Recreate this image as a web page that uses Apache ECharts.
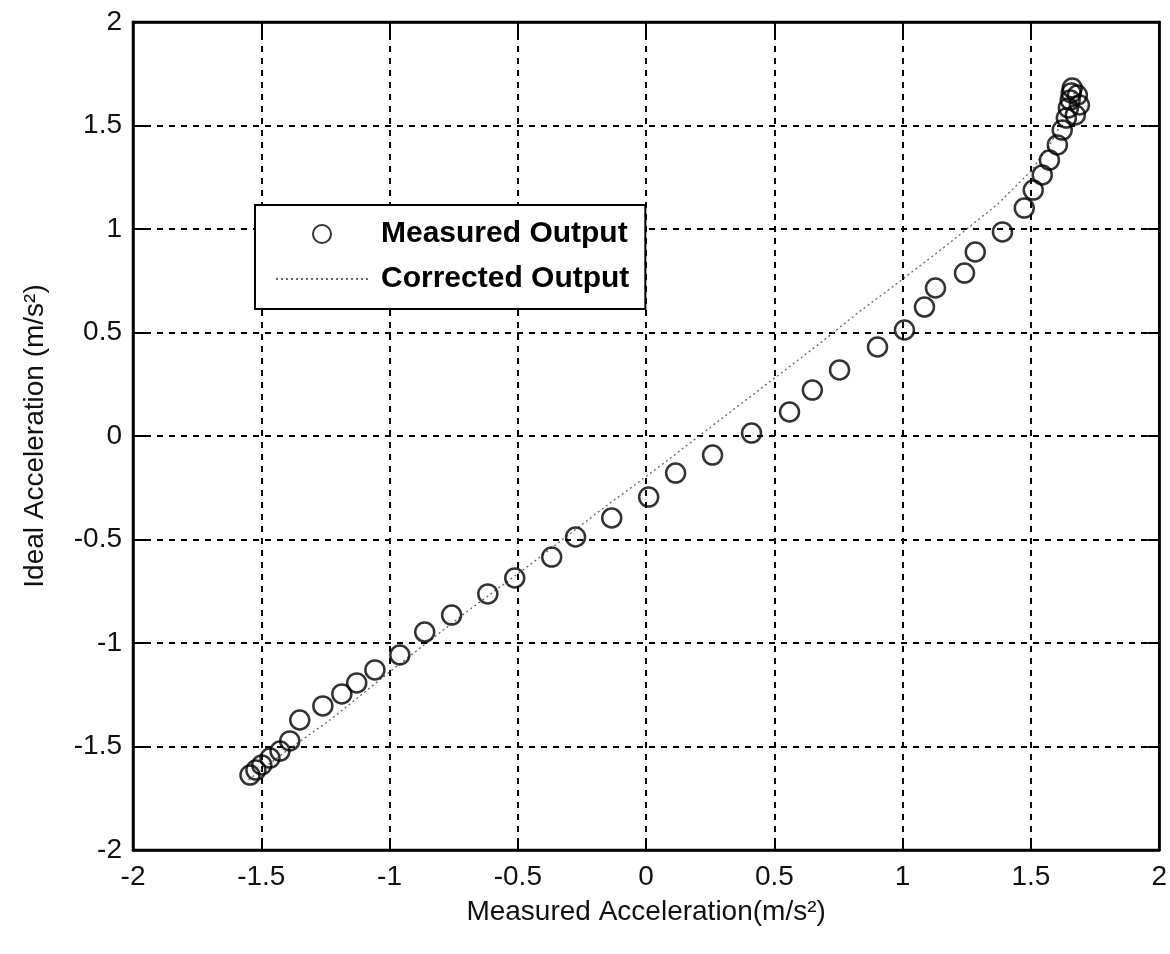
<!DOCTYPE html>
<html>
<head>
<meta charset="utf-8">
<title>Measured vs Ideal Acceleration</title>
<script src="https://cdn.jsdelivr.net/npm/echarts@6/dist/echarts.min.js"></script>
<style>
  html, body { margin: 0; padding: 0; background: #fff; }
  #chart { width: 1170px; height: 954px; }
</style>
</head>
<body>
<div id="chart"></div>
<script>
// Measured output samples (x: measured acceleration, y: ideal acceleration), m/s^2
const measuredX = [
  -1.544, -1.521, -1.498, -1.466, -1.427, -1.389, -1.350, -1.260, -1.186, -1.128,
  -1.057, -0.960, -0.863, -0.758, -0.617, -0.512, -0.368, -0.275, -0.134, 0.010,
  0.115, 0.259, 0.411, 0.559, 0.648, 0.754, 0.902, 1.007, 1.085, 1.128,
  1.241, 1.283, 1.389, 1.474, 1.509, 1.544, 1.572, 1.603, 1.622, 1.638,
  1.646, 1.653, 1.657, 1.661, 1.681, 1.689, 1.673
];
const measuredY = [
  -1.638, -1.614, -1.589, -1.556, -1.522, -1.473, -1.372, -1.304, -1.246, -1.193,
  -1.130, -1.058, -0.947, -0.865, -0.763, -0.686, -0.585, -0.488, -0.396, -0.295,
  -0.179, -0.092, 0.014, 0.116, 0.222, 0.319, 0.430, 0.512, 0.623, 0.715,
  0.787, 0.889, 0.986, 1.101, 1.188, 1.261, 1.333, 1.406, 1.478, 1.536,
  1.585, 1.623, 1.657, 1.681, 1.647, 1.599, 1.551
];

// Corrected output curve
const correctedX = [
  -1.55, -1.40, -1.23, -0.97, -0.70, -0.44, -0.19, 0.06, 0.29, 0.48,
  0.68, 0.83, 0.96, 1.16, 1.37, 1.50, 1.58, 1.64, 1.67
];
const correctedY = [
  -1.66, -1.52, -1.37, -1.11, -0.85, -0.61, -0.37, -0.14, 0.08, 0.26,
  0.45, 0.60, 0.72, 0.91, 1.12, 1.28, 1.42, 1.56, 1.66
];

// Axis tick labels
const xTickLabels = ['-2', '-1.5', '-1', '-0.5', '0', '0.5', '1', '1.5', '2'];
const yTickLabels = ['-2', '-1.5', '-1', '-0.5', '0', '0.5', '1', '1.5', '2'];
const axisMin = -2, axisMax = 2, axisStep = 0.5;

const seriesNames = ['Measured Output', 'Corrected Output'];
const xAxisTitle = 'Measured Acceleration(m/s\u00B2)';
const yAxisTitle = 'Ideal Acceleration (m/s\u00B2)';

const fontFamily = '"Liberation Sans", Arial, sans-serif';

function tickFormatter(labels) {
  return function (v) {
    const i = Math.round((v - axisMin) / axisStep);
    return labels[i] !== undefined ? labels[i] : '';
  };
}

const measuredData = measuredX.map((x, i) => [x, measuredY[i]]);
const correctedData = correctedX.map((x, i) => [x, correctedY[i]]);

const axisLineStyle = { color: '#000', width: 2.5 };
const tickStyle = { show: true, inside: true, length: 12, lineStyle: { color: '#000', width: 2 } };
const gridLineStyle = { show: true, lineStyle: { color: '#000', width: 2, type: [6, 6] } };

const chart = echarts.init(document.getElementById('chart'), null, { renderer: 'canvas' });

chart.setOption({
  backgroundColor: '#fff',
  animation: false,
  grid: {
    left: 133, top: 22, width: 1027, height: 828,
    show: true, borderColor: '#000', borderWidth: 2.5, backgroundColor: '#fff'
  },
  legend: {
    data: [
      { name: seriesNames[0] },
      // line-only key: hide the marker the line series would otherwise add
      { name: seriesNames[1], itemStyle: { color: 'rgba(0,0,0,0)', borderColor: 'rgba(0,0,0,0)', borderWidth: 0, opacity: 0 } }
    ],
    orient: 'vertical',
    left: 255,
    top: 205,
    padding: [14, 16, 15, 20],
    itemWidth: 92,
    itemHeight: 18,
    itemGap: 15,
    backgroundColor: '#fff',
    borderColor: '#000',
    borderWidth: 2,
    borderRadius: 0,
    textStyle: {
      fontFamily: fontFamily,
      fontSize: 30,
      fontWeight: 'bold',
      color: '#000',
      lineHeight: 30,
      padding: [0, 0, 0, 8]
    }
  },
  xAxis: [
    {
      type: 'value', min: axisMin, max: axisMax, interval: axisStep, position: 'bottom',
      axisLine: { show: true, onZero: false, lineStyle: axisLineStyle },
      axisTick: tickStyle,
      axisLabel: {
        formatter: tickFormatter(xTickLabels), fontFamily: fontFamily,
        fontSize: 28, color: '#111', margin: 13
      },
      splitLine: gridLineStyle,
      name: xAxisTitle, nameLocation: 'middle', nameGap: 48,
      nameTextStyle: { fontFamily: fontFamily, fontSize: 28, color: '#111' }
    },
    {
      type: 'value', min: axisMin, max: axisMax, interval: axisStep, position: 'top',
      axisLine: { show: true, onZero: false, lineStyle: axisLineStyle },
      axisTick: tickStyle,
      axisLabel: { show: false },
      splitLine: { show: false }
    }
  ],
  yAxis: [
    {
      type: 'value', min: axisMin, max: axisMax, interval: axisStep, position: 'left',
      axisLine: { show: true, onZero: false, lineStyle: axisLineStyle },
      axisTick: tickStyle,
      axisLabel: {
        formatter: tickFormatter(yTickLabels), fontFamily: fontFamily,
        fontSize: 28, color: '#111', margin: 11
      },
      splitLine: gridLineStyle,
      name: yAxisTitle, nameLocation: 'middle', nameGap: 84,
      nameTextStyle: { fontFamily: fontFamily, fontSize: 28, color: '#111' }
    },
    {
      type: 'value', min: axisMin, max: axisMax, interval: axisStep, position: 'right',
      axisLine: { show: true, onZero: false, lineStyle: axisLineStyle },
      axisTick: tickStyle,
      axisLabel: { show: false },
      splitLine: { show: false }
    }
  ],
  series: [
    {
      name: seriesNames[0],
      type: 'scatter',
      xAxisIndex: 0, yAxisIndex: 0,
      data: measuredData,
      symbol: 'circle',
      symbolSize: 19,
      itemStyle: { color: 'rgba(0,0,0,0)', borderColor: '#000', borderWidth: 2.5 },
      z: 3
    },
    {
      name: seriesNames[1],
      type: 'line',
      xAxisIndex: 0, yAxisIndex: 0,
      data: correctedData,
      symbol: 'none',
      showSymbol: false,
      smooth: false,
      lineStyle: { color: '#666', width: 1.3, type: [2, 3] },
      itemStyle: { color: '#666' },
      z: 2
    }
  ]
});
</script>
</body>
</html>
